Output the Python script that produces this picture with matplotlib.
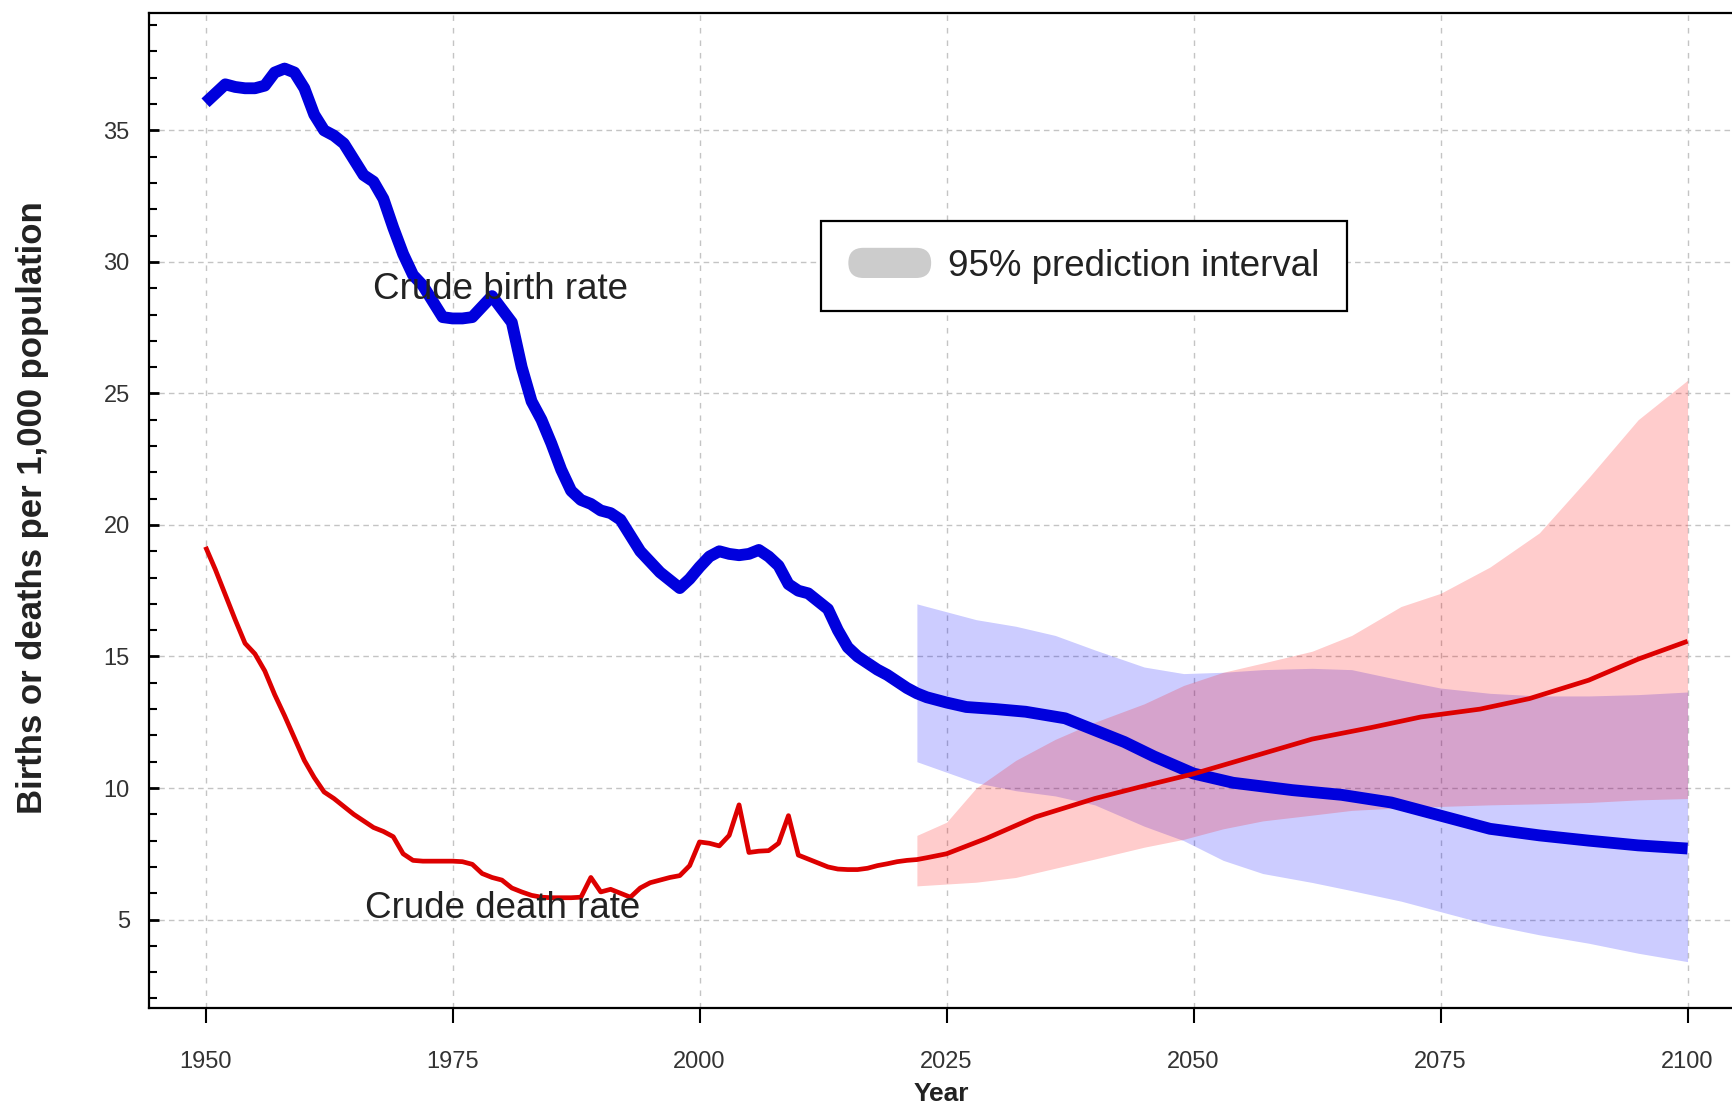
import matplotlib
matplotlib.use("Agg")
import matplotlib.pyplot as plt
from matplotlib.patches import FancyBboxPatch, Patch
from matplotlib.legend_handler import HandlerBase
from matplotlib.ticker import MultipleLocator

plt.rcParams["font.family"] = ["Liberation Sans", "DejaVu Sans"]

# ── Data ─────────────────────────────────────────────────────────────────────

birth_years = [
    1950, 1951, 1952, 1953, 1954, 1955, 1956, 1957, 1958, 1959,
    1960, 1961, 1962, 1963, 1964, 1965, 1966, 1967, 1968, 1969,
    1970, 1971, 1972, 1973, 1974, 1975, 1976, 1977, 1978, 1979,
    1980, 1981, 1982, 1983, 1984, 1985, 1986, 1987, 1988, 1989,
    1990, 1991, 1992, 1993, 1994, 1995, 1996, 1997, 1998, 1999,
    2000, 2001, 2002, 2003, 2004, 2005, 2006, 2007, 2008, 2009,
    2010, 2011, 2012, 2013, 2014, 2015, 2016, 2017, 2018, 2019,
    2020, 2021, 2022, 2023, 2024, 2025, 2027, 2030, 2033, 2037,
    2040, 2043, 2046, 2050, 2054, 2060, 2065, 2070, 2076, 2080,
    2085, 2090, 2095, 2100,
]
birth_rate = [
    36.05, 36.4, 36.75, 36.65, 36.6, 36.6, 36.7, 37.2, 37.35, 37.2,
    36.6, 35.6, 35.0, 34.8, 34.5, 33.9, 33.3, 33.05, 32.4, 31.3,
    30.3, 29.5, 29.1, 28.5, 27.9, 27.85, 27.85, 27.9, 28.3, 28.7,
    28.2, 27.7, 26.0, 24.7, 24.0, 23.1, 22.1, 21.3, 20.95, 20.8,
    20.55, 20.45, 20.2, 19.6, 19.0, 18.6, 18.2, 17.9, 17.6, 17.95,
    18.4, 18.8, 19.0, 18.9, 18.85, 18.9, 19.05, 18.8, 18.45, 17.75,
    17.5, 17.4, 17.1, 16.8, 16.0, 15.35, 15.0, 14.75, 14.5, 14.3,
    14.05, 13.8, 13.6, 13.45, 13.35, 13.25, 13.08, 13.0, 12.9, 12.65,
    12.2, 11.75, 11.2, 10.55, 10.2, 9.92, 9.74, 9.45, 8.85, 8.45,
    8.2, 8.0, 7.82, 7.7,
]

death_years = [
    1950, 1951, 1952, 1953, 1954, 1955, 1956, 1957, 1958, 1959,
    1960, 1961, 1962, 1963, 1964, 1965, 1966, 1967, 1968, 1969,
    1970, 1971, 1972, 1973, 1974, 1975, 1976, 1977, 1978, 1979,
    1980, 1981, 1982, 1983, 1984, 1985, 1986, 1987, 1988, 1989,
    1990, 1991, 1992, 1993, 1994, 1995, 1996, 1997, 1998, 1999,
    2000, 2001, 2002, 2003, 2004, 2005, 2006, 2007, 2008, 2009,
    2010, 2011, 2012, 2013, 2014, 2015, 2016, 2017, 2018, 2019,
    2020, 2021, 2022, 2023, 2025, 2029, 2034, 2040, 2045, 2050,
    2056, 2062, 2068, 2073, 2079, 2084, 2090, 2095, 2100,
]
death_rate = [
    19.17, 18.3, 17.35, 16.4, 15.5, 15.1, 14.45, 13.55, 12.75, 11.9,
    11.05, 10.4, 9.85, 9.6, 9.3, 9.0, 8.75, 8.5, 8.35, 8.15,
    7.5, 7.25, 7.22, 7.22, 7.22, 7.22, 7.2, 7.1, 6.75, 6.6,
    6.5, 6.2, 6.05, 5.92, 5.85, 5.83, 5.83, 5.83, 5.85, 6.6,
    6.05, 6.15, 6.0, 5.85, 6.2, 6.4, 6.5, 6.6, 6.67, 7.05,
    7.95, 7.9, 7.8, 8.2, 9.36, 7.55, 7.6, 7.62, 7.9, 8.95,
    7.45, 7.3, 7.15, 7.0, 6.92, 6.9, 6.9, 6.95, 7.05, 7.12,
    7.2, 7.25, 7.28, 7.35, 7.5, 8.08, 8.9, 9.6, 10.08, 10.54,
    11.2, 11.86, 12.3, 12.7, 13.0, 13.4, 14.1, 14.9, 15.58,
]

band_years = [
    2022, 2025, 2028, 2032, 2036, 2040, 2045, 2049, 2053, 2057,
    2062, 2066, 2071, 2075, 2080, 2085, 2090, 2095, 2100,
]
birth_upper = [
    17.0, 16.7, 16.4, 16.15, 15.8, 15.25, 14.6, 14.35, 14.4, 14.5,
    14.55, 14.5, 14.1, 13.8, 13.6, 13.5, 13.5, 13.55, 13.65,
]
birth_lower = [
    11.0, 10.6, 10.2, 9.9, 9.7, 9.36, 8.55, 8.0, 7.25, 6.75,
    6.41, 6.1, 5.7, 5.3, 4.8, 4.42, 4.1, 3.72, 3.4,
]
death_upper = [
    8.2, 8.7, 10.0, 11.05, 11.85, 12.5, 13.2, 13.9, 14.4, 14.75,
    15.2, 15.8, 16.9, 17.4, 18.4, 19.7, 21.8, 24.0, 25.5,
]
death_lower = [
    6.28, 6.35, 6.42, 6.6, 6.95, 7.3, 7.75, 8.05, 8.45, 8.75,
    8.97, 9.15, 9.25, 9.3, 9.36, 9.4, 9.45, 9.55, 9.6,
]

BLUE = "#0000dd"
RED = "#dd0000"
TEXT = "#222222"


class PillHandler(HandlerBase):
    """Grey rounded blob used as the legend key."""
    def create_artists(self, legend, orig_handle, xdescent, ydescent,
                       width, height, fontsize, trans):
        ph = 0.82 * fontsize
        cy = -ydescent + height / 2
        p = FancyBboxPatch((-xdescent, cy - ph / 2), width, ph,
                           boxstyle=f"round,pad=0,rounding_size={ph / 2}",
                           facecolor="#cccccc", edgecolor="none",
                           transform=trans)
        return [p]


fig = plt.figure(figsize=(17.33, 11.08), dpi=100)
ax = fig.add_axes([0.0861, 0.0903, 0.9139, 0.8977])

ax.fill_between(band_years, birth_lower, birth_upper, color="#0000ff",
                alpha=0.2, linewidth=0, zorder=2)
ax.fill_between(band_years, death_lower, death_upper, color="#ff0000",
                alpha=0.2, linewidth=0, zorder=2)
ax.plot(birth_years, birth_rate, color=BLUE, lw=8.5, zorder=3,
        solid_joinstyle="round", solid_capstyle="butt")
ax.plot(death_years, death_rate, color=RED, lw=3.4, zorder=4,
        solid_joinstyle="round", solid_capstyle="butt")

ax.text(1967.0, 28.95, "Crude birth rate", fontsize=26.5, color=TEXT,
        ha="left", va="center", zorder=5)
ax.text(1966.1, 5.42, "Crude death rate", fontsize=26.5, color=TEXT,
        ha="left", va="center", zorder=5)

ax.set_xlim(1944.3, 2104.6)
ax.set_ylim(1.64, 39.45)
ax.xaxis.set_major_locator(MultipleLocator(25))
ax.yaxis.set_major_locator(MultipleLocator(5))
ax.yaxis.set_minor_locator(MultipleLocator(1))

ax.xaxis.grid(True, color="#c4c4c4", linestyle=(0, (4, 5)), linewidth=1.0)
ax.yaxis.grid(True, color="#c4c4c4", linestyle=(0, (4, 3)), linewidth=1.0)
ax.set_axisbelow(True)

ax.tick_params(axis="y", which="major", direction="in", length=7, width=2,
               labelsize=17, pad=14, labelcolor="#333333")
ax.tick_params(axis="y", which="minor", direction="in", length=6, width=1.5)
ax.tick_params(axis="x", which="major", direction="out", length=11, width=1.5,
               labelsize=17, pad=20, labelcolor="#333333")

for side in ("left", "bottom", "top"):
    ax.spines[side].set_linewidth(1.6)
    ax.spines[side].set_color("black")
ax.spines["right"].set_visible(False)

ax.set_ylabel("Births or deaths per 1,000 population", fontsize=25,
              fontweight="bold", color=TEXT)
ax.yaxis.set_label_coords(-0.063, 0.503)
ax.set_xlabel("Year", fontsize=19, fontweight="bold", color=TEXT)
ax.xaxis.set_label_coords(0.5, -0.074)

leg = ax.legend(handles=[Patch()], labels=["95% prediction interval"],
                handler_map={Patch: PillHandler()},
                loc="upper left", bbox_to_anchor=(0.424, 0.791),
                borderaxespad=0, fontsize=26.5, fancybox=False,
                framealpha=1, edgecolor="black", borderpad=0.75,
                handlelength=2.25, handletextpad=0.47, labelcolor=TEXT)
leg.get_frame().set_linewidth(1.6)

fig.savefig("out.png", dpi=100)
